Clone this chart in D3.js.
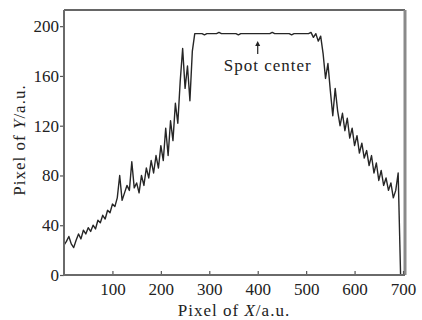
<!DOCTYPE html>
<html>
<head>
<meta charset="utf-8">
<script src="https://cdn.jsdelivr.net/npm/d3@7"></script>
<style>
  html, body { margin: 0; padding: 0; background: #fff; }
  svg { display: block; }
  text { font-family: "Liberation Serif", "Times New Roman", serif; fill: #222; }
</style>
</head>
<body>
<svg id="chart" width="422" height="320"></svg>
<script>
// ---- data ----
const xStep = 5; // sample spacing along X (pixels of X)
const intensity = [
  // 0 - 95
  24, 27, 31, 25, 22, 28, 33, 29, 36, 33, 38, 35, 40, 37, 44, 42, 48, 45, 52, 50,
  // 100 - 195
  57, 55, 62, 80, 60, 66, 72, 68, 91, 70, 74, 66, 80, 72, 86, 78, 92, 82, 96, 86,
  // 200 - 295
  104, 92, 118, 96, 124, 108, 138, 122, 156, 182, 150, 168, 140, 180, 194, 194, 194, 194, 193, 194,
  // 300 - 395
  194, 194, 194, 194, 195, 194, 194, 194, 194, 194, 194, 194, 193, 194, 194, 194, 194, 194, 194, 194,
  // 400 - 495
  194, 194, 194, 194, 194, 194, 195, 194, 194, 194, 194, 194, 194, 194, 193, 194, 194, 194, 194, 194,
  // 500 - 595
  194, 194, 195, 191, 194, 188, 192, 178, 158, 170, 148, 128, 150, 132, 120, 130, 116, 126, 110, 118,
  // 600 - 700
  104, 112, 98, 106, 94, 100, 88, 96, 82, 90, 76, 84, 72, 78, 68, 74, 62, 68, 82, 0, 0
];
const xTicks = [100, 200, 300, 400, 500, 600, 700];
const yTicks = [0, 40, 80, 120, 160, 200];
const annotation = { x: 400, label: "Spot center" };

// ---- layout ----
const svg = d3.select("#chart");
const FONT = '"Liberation Serif", "Times New Roman", serif';
const mLeft = 64, mRight = 403, mTop = 10, mBottom = 275;
const x = d3.scaleLinear().domain([0, 700]).range([mLeft, mRight]);
const y = d3.scaleLinear().domain([0, 213]).range([mBottom, mTop]);

const points = intensity.map((v, i) => [i * xStep, v]);

// frame
svg.append("line").attr("x1", mLeft).attr("x2", 405).attr("y1", mTop).attr("y2", mTop)
  .attr("stroke", "#333").attr("stroke-width", 1.6);
svg.append("line").attr("x1", 405).attr("x2", 405).attr("y1", mTop).attr("y2", mBottom)
  .attr("stroke", "#8a8a8a").attr("stroke-width", 3);

// data line
svg.append("path")
  .datum(points)
  .attr("fill", "none")
  .attr("stroke", "#262626")
  .attr("stroke-width", 1.4)
  .attr("stroke-linejoin", "round")
  .attr("d", d3.line().x(d => x(d[0])).y(d => y(d[1])));

// x axis
const gx = svg.append("g").attr("transform", `translate(0,${mBottom})`)
  .call(d3.axisBottom(x).tickValues(xTicks).tickSizeInner(-4).tickSizeOuter(0).tickPadding(8));
gx.attr("font-family", FONT).attr("font-size", 17);
gx.select(".domain").remove();
gx.selectAll(".tick line").attr("stroke", "#555").attr("stroke-width", 1.2);
gx.selectAll(".tick text").style("font-family", FONT).style("font-size", "17px").attr("fill", "#222");

// y axis
const gy = svg.append("g").attr("transform", `translate(${mLeft},0)`)
  .call(d3.axisLeft(y).tickValues(yTicks).tickSizeInner(4).tickSizeOuter(0).tickPadding(1));
gy.attr("font-family", FONT).attr("font-size", 17);
gy.select(".domain").remove();
gy.selectAll(".tick line").attr("stroke", "#555").attr("stroke-width", 1.2);
gy.selectAll(".tick text").style("font-family", FONT).style("font-size", "17px").attr("fill", "#222");

// axis lines
svg.append("line").attr("x1", mLeft).attr("x2", mLeft).attr("y1", mTop).attr("y2", mBottom + 1)
  .attr("stroke", "#6a6a6a").attr("stroke-width", 2);
svg.append("line").attr("x1", mLeft - 1).attr("x2", 405).attr("y1", mBottom).attr("y2", mBottom)
  .attr("stroke", "#6a6a6a").attr("stroke-width", 2);

// axis titles
const xt = svg.append("text").attr("x", 234).attr("y", 316).attr("text-anchor", "middle")
  .style("font-size", "17px").style("letter-spacing", "1px");
xt.append("tspan").text("Pixel of ");
xt.append("tspan").style("font-style", "italic").text("X");
xt.append("tspan").text("/a.u.");

const yt = svg.append("text").attr("transform", "translate(25,140) rotate(-90)")
  .attr("text-anchor", "middle").style("font-size", "17px").style("letter-spacing", "1px");
yt.append("tspan").text("Pixel of ");
yt.append("tspan").style("font-style", "italic").text("Y");
yt.append("tspan").text("/a.u.");

// annotation
const ax = x(annotation.x);
svg.append("line").attr("x1", ax).attr("x2", ax).attr("y1", 54).attr("y2", 44)
  .attr("stroke", "#222").attr("stroke-width", 1.2);
svg.append("path").attr("d", `M${ax - 2.5},${46} L${ax},${41} L${ax + 2.5},${46} Z`).attr("fill", "#222");
svg.append("text").attr("x", ax + 10).attr("y", 71).attr("text-anchor", "middle")
  .style("font-size", "17px").style("letter-spacing", "1px").text(annotation.label);
</script>
</body>
</html>
